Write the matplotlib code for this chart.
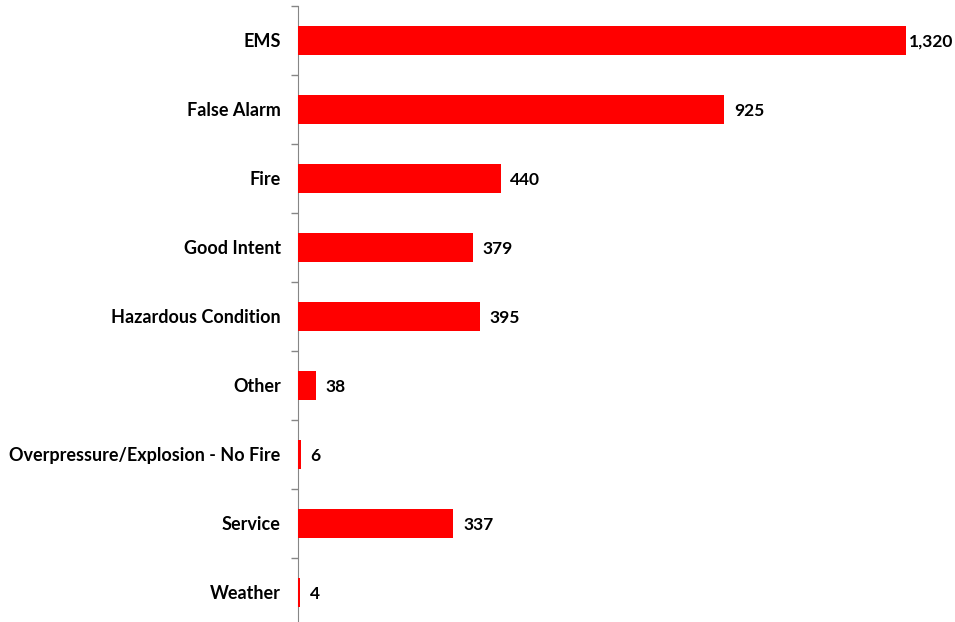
import numpy as np
import matplotlib
matplotlib.use("Agg")
from matplotlib import pyplot as plt

categories = ['EMS', 'False Alarm', 'Fire', 'Good Intent', 'Hazardous Condition',
              'Other', 'Overpressure/Explosion - No Fire', 'Service', 'Weather']
counts = [1320, 925, 440, 379, 395, 38, 6, 337, 4]

plt.rcParams['font.family'] = ['Lato', 'DejaVu Sans']

fig = plt.figure(figsize=(9.55, 6.22), dpi=100)
ax = fig.add_axes([298 / 955, -0.008, 0.69, 0.9984])

y = np.arange(len(categories))
ax.barh(y, counts, height=0.41, color='#ff0000', zorder=3)
ax.set_ylim(len(categories) - 0.5, -0.5)
ax.set_xlim(0, 1430)

# labels sit just right of the bar; the longest one is squeezed in like Excel does
for yi, v in zip(y, counts):
    off = 2 if v == max(counts) else 7
    ax.annotate(f'{v:,}', (v, yi), xytext=(off, -1), textcoords='offset points',
                va='center', ha='left', fontsize=12.5, fontweight='bold', color='black')

ax.set_yticks(y)
ax.set_yticklabels(categories, fontsize=13, fontweight='bold')
ax.set_yticks(np.arange(-0.5, len(categories) + 0.5, 1), minor=True)
ax.tick_params(axis='y', which='major', length=0, pad=12.5)
ax.tick_params(axis='y', which='minor', length=5, color='#868686', width=1)
ax.set_xticks([])

for s in ['top', 'right', 'bottom']:
    ax.spines[s].set_visible(False)
ax.spines['left'].set_color('#868686')

fig.savefig('out.png', dpi=100)
